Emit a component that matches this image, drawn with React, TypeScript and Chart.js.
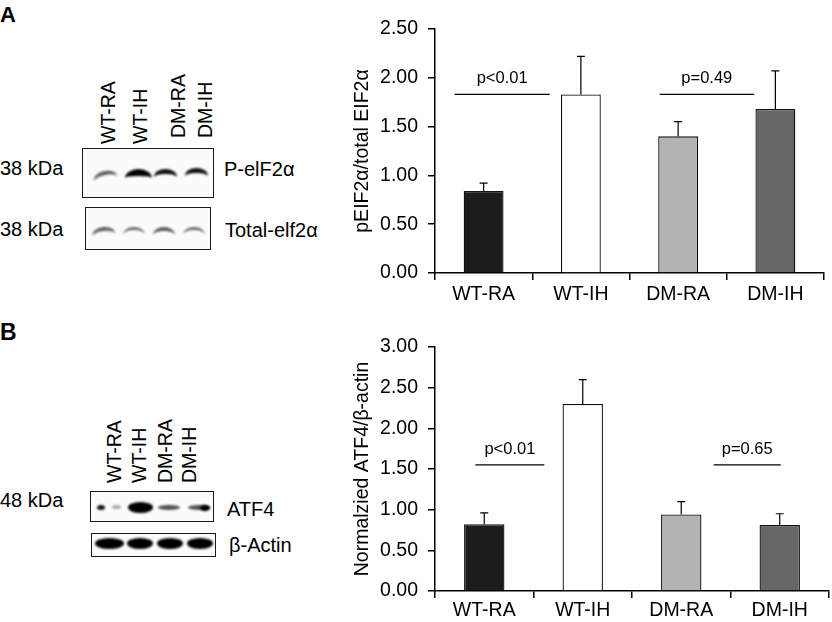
import React, { useEffect, useRef } from 'react';
import { Chart, registerables } from 'chart.js';

Chart.register(...registerables);

const FONT = '"Liberation Sans", Arial, Helvetica, sans-serif';

// ---------- data ----------
const categories = ['WT-RA', 'WT-IH', 'DM-RA', 'DM-IH'];
const barColors = ['#1c1c1c', '#ffffff', '#b3b3b3', '#666666'];

const eifValues = [0.84, 1.83, 1.4, 1.68];
const eifErrors = [0.08, 0.39, 0.15, 0.39];
const eifTicks = [0, 0.5, 1.0, 1.5, 2.0, 2.5];
const eifSigText = ['p<0.01', 'p=0.49'];
const eifSigFrom = [-0.3, 1.81];
const eifSigTo = [0.68, 2.78];
const eifSigLevel = [1.83, 1.83];

const atfValues = [0.82, 2.3, 0.94, 0.81];
const atfErrors = [0.14, 0.3, 0.16, 0.14];
const atfTicks = [0, 0.5, 1.0, 1.5, 2.0, 2.5, 3.0];
const atfSigText = ['p<0.01', 'p=0.65'];
const atfSigFrom = [-0.09, 2.33];
const atfSigTo = [0.61, 3.01];
const atfSigLevel = [1.55, 1.55];

type ChartProps = {
  left: number; top: number; width: number; height: number;
  values: number[]; errors: number[]; ticks: number[]; title: string;
  sigText: string[]; sigFrom: number[]; sigTo: number[]; sigLevel: number[];
  padTop: number; padRight: number; xHeight: number; xPad: number;
};

function BarChart(p: ChartProps) {
  const ref = useRef<HTMLCanvasElement | null>(null);
  useEffect(() => {
    if (!ref.current) return;
    const annot = {
      id: 'annot',
      afterDatasetsDraw(chart: any) {
        const { ctx } = chart;
        const x = chart.scales.x;
        const y = chart.scales.y;
        const meta = chart.getDatasetMeta(0);
        ctx.save();
        ctx.strokeStyle = '#000';
        ctx.lineWidth = 1.2;
        meta.data.forEach((bar: any, i: number) => {
          const base = y.getPixelForValue(p.values[i]);
          const topPx = y.getPixelForValue(p.values[i] + p.errors[i]);
          ctx.beginPath();
          ctx.moveTo(bar.x, base);
          ctx.lineTo(bar.x, topPx);
          ctx.moveTo(bar.x - 4, topPx);
          ctx.lineTo(bar.x + 4, topPx);
          ctx.stroke();
        });
        ctx.font = `16.5px ${FONT}`;
        ctx.fillStyle = '#000';
        ctx.textAlign = 'center';
        ctx.textBaseline = 'alphabetic';
        p.sigText.forEach((t, i) => {
          const x0 = x.getPixelForValue(p.sigFrom[i]);
          const x1 = x.getPixelForValue(p.sigTo[i]);
          const yy = y.getPixelForValue(p.sigLevel[i]);
          ctx.beginPath();
          ctx.moveTo(x0, yy);
          ctx.lineTo(x1, yy);
          ctx.stroke();
          ctx.fillText(t, (x0 + x1) / 2, yy - 11);
        });
        ctx.restore();
      },
    };
    const chart = new Chart(ref.current, {
      type: 'bar',
      data: {
        labels: categories,
        datasets: [{
          data: p.values,
          backgroundColor: barColors,
          borderColor: '#111',
          borderWidth: 1.3,
          barPercentage: 0.41,
          categoryPercentage: 1,
        }],
      },
      options: {
        animation: false,
        responsive: false,
        layout: { padding: { left: 0, top: p.padTop, right: p.padRight, bottom: 0 } },
        plugins: { legend: { display: false }, tooltip: { enabled: false } },
        scales: {
          x: {
            grid: { display: true, drawOnChartArea: false, drawTicks: true, tickLength: 7, color: '#000', lineWidth: 1.5, offset: true },
            border: { display: true, color: '#000', width: 1.5 },
            ticks: { color: '#000', font: { size: 19.5, family: FONT }, padding: p.xPad, maxRotation: 0, autoSkip: false },
            afterFit: (s: any) => { s.height = p.xHeight; },
          },
          y: {
            min: 0,
            max: p.ticks[p.ticks.length - 1],
            grid: { drawOnChartArea: false, drawTicks: true, tickLength: 7, color: '#000', lineWidth: 1.5 },
            border: { display: true, color: '#000', width: 1.5 },
            ticks: { color: '#000', font: { size: 19.5, family: FONT }, padding: 10, callback: (v: any) => Number(v).toFixed(2) },
            afterBuildTicks: (s: any) => { s.ticks = p.ticks.map((v) => ({ value: v })); },
            title: { display: true, text: p.title, color: '#000', font: { size: 19.5, family: FONT }, padding: { top: 21, bottom: 0 } },
            afterFit: (s: any) => { s.width = 105; },
          },
        },
      } as any,
      plugins: [annot],
    });
    return () => chart.destroy();
  }, []);
  return (
    <canvas ref={ref} width={p.width} height={p.height}
      style={{ position: 'absolute', left: p.left, top: p.top, width: p.width, height: p.height }} />
  );
}

const T = ({ x, y, children, size = 20, bold = false }: any) => (
  <div style={{
    position: 'absolute', left: x, top: y, fontSize: size, lineHeight: 1, whiteSpace: 'nowrap',
    fontWeight: bold ? 700 : 400, transform: 'translateY(-50%)',
  }}>{children}</div>
);

const VT = ({ x, y, children }: any) => (
  <div style={{
    position: 'absolute', left: x, top: y, fontSize: 19.5, lineHeight: 1, whiteSpace: 'nowrap',
    transformOrigin: '0 0', transform: 'rotate(-90deg) translateY(-50%)',
  }}>{children}</div>
);

const Box = ({ l, t, w, h }: any) => (
  <div style={{ position: 'absolute', left: l, top: t, width: w, height: h, border: '1.5px solid #1a1a1a', boxSizing: 'border-box', background: '#fbfbfb' }} />
);

const Arc = ({ l, t, w, h, th, c, o = 1, blur = 0.9, rot = 0 }: any) => (
  <div style={{
    position: 'absolute', left: l, top: t, width: w, height: h, borderTop: `${th}px solid ${c}`,
    borderRadius: '50% 50% 0 0 / 100% 100% 0 0', boxSizing: 'border-box', opacity: o, filter: `blur(${blur}px)`,
    transform: `rotate(${rot}deg)`,
  }} />
);

const Blob = ({ l, t, w, h, c, o = 1, blur = 0.9 }: any) => (
  <div style={{ position: 'absolute', left: l, top: t, width: w, height: h, background: c, borderRadius: '50%', opacity: o, filter: `blur(${blur}px)` }} />
);

export default function App() {
  return (
    <div style={{ position: 'absolute', left: 0, top: 0, width: 832, height: 622, background: '#fff', fontFamily: FONT, color: '#000', overflow: 'hidden' }}>
      {/* Panel A */}
      <T x={0} y={15} size={22} bold>A</T>
      <VT x={109} y={144}>WT-RA</VT>
      <VT x={141} y={144}>WT-IH</VT>
      <VT x={179} y={138}>DM-RA</VT>
      <VT x={206} y={138}>DM-IH</VT>
      <T x={0} y={168}>38 kDa</T>
      <T x={0} y={229}>38 kDa</T>
      <Box l={82} t={148} w={132} h={50} />
      <Arc l={93} t={171} w={24} h={8} th={4} c="#333" o={0.8} rot={-12} />
      <Arc l={125} t={169} w={27} h={9} th={7} c="#000" />
      <Arc l={154} t={169} w={23} h={8} th={5} c="#111" />
      <Arc l={185} t={168} w={23} h={8} th={5} c="#111" />
      <Box l={85} t={207} w={126} h={43} />
      <Arc l={92} t={227} w={23} h={8} th={4} c="#444" o={0.85} rot={-6} />
      <Arc l={123} t={227} w={22} h={8} th={3.6} c="#555" o={0.85} />
      <Arc l={153} t={227} w={22} h={8} th={4} c="#444" o={0.85} />
      <Arc l={183} t={227} w={22} h={8} th={3.6} c="#555" o={0.85} />
      <T x={224} y={169}>P-elF2α</T>
      <T x={225} y={230}>Total-elf2α</T>

      {/* Panel B */}
      <T x={0} y={332} size={23} bold>B</T>
      <VT x={115} y={483}>WT-RA</VT>
      <VT x={140} y={483}>WT-IH</VT>
      <VT x={166} y={483}>DM-RA</VT>
      <VT x={190} y={483}>DM-IH</VT>
      <T x={0} y={500}>48 kDa</T>
      <Box l={90} t={491} w={124} h={31} />
      <Blob l={97} t={505} w={8} h={5} c="#111" />
      <Blob l={112} t={505} w={9} h={4} c="#888" o={0.7} />
      <Blob l={128} t={502} w={25} h={11} c="#000" />
      <Blob l={158} t={505} w={22} h={5} c="#333" o={0.85} />
      <Blob l={188} t={505} w={22} h={5} c="#333" o={0.85} />
      <Blob l={200} t={505} w={10} h={6} c="#000" />
      <Box l={91} t={533} w={125} h={24} />
      <Blob l={95} t={538} w={29} h={11} c="#000" />
      <Blob l={127} t={538} w={26} h={11} c="#000" />
      <Blob l={157} t={538} w={26} h={11} c="#000" />
      <Blob l={187} t={538} w={26} h={11} c="#000" />
      <T x={227} y={509}>ATF4</T>
      <T x={229} y={545}>β-Actin</T>

      <BarChart left={330} top={0} width={502} height={305}
        values={eifValues} errors={eifErrors} ticks={eifTicks} title="pEIF2α/total EIF2α"
        sigText={eifSigText} sigFrom={eifSigFrom} sigTo={eifSigTo} sigLevel={eifSigLevel}
        padTop={29} padRight={8} xHeight={32} xPad={3} />
      <BarChart left={330} top={310} width={502} height={312}
        values={atfValues} errors={atfErrors} ticks={atfTicks} title="Normalzied ATF4/β-actin"
        sigText={atfSigText} sigFrom={atfSigFrom} sigTo={atfSigTo} sigLevel={atfSigLevel}
        padTop={37} padRight={3} xHeight={31} xPad={1} />
    </div>
  );
}
